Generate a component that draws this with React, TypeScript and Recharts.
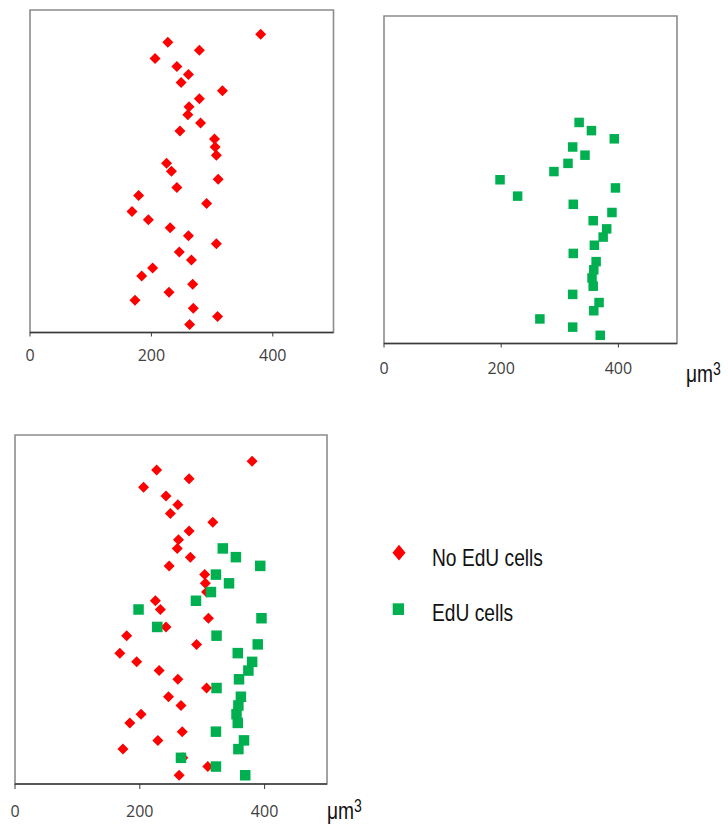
import { ReferenceArea, Scatter, ScatterChart, XAxis, YAxis } from "recharts";

const RED = "#ff0000";
const GREEN = "#00b050";
const FRAME = "#8c8c8c";
const AXIS = "#3a3a3a";
const LABEL = "#404040";
const TEXT = "#111111";

const xTicks = [0, 200, 400];

// cell volumes, top to bottom as plotted
const noEduVol = [
  380, 227, 279, 206, 242, 261, 249, 317, 279, 262, 260, 281, 247, 304, 305, 307, 225, 233, 310,
  242, 179, 291, 168, 195, 231, 261, 307, 246, 266, 202, 184, 268, 229, 173, 269, 309, 263,
];
const noEduRank = [
  37, 36, 35, 34, 33, 32, 31, 30, 29, 28, 27, 26, 25, 24, 23, 22, 21, 20, 19, 18, 17, 16, 15, 14,
  13, 12, 11, 10, 9, 8, 7, 6, 5, 4, 3, 2, 1,
];
const eduVol = [
  333, 354, 393, 322, 343, 314, 290, 198, 395, 228, 323, 389, 357, 380, 374, 359, 323, 362, 358,
  355, 357, 322, 367, 358, 266, 322, 369,
];
const eduRank = [
  27, 26, 25, 24, 23, 22, 21, 20, 19, 18, 17, 16, 15, 14, 13, 12, 11, 10, 9, 8, 7, 6, 5, 4, 3, 2, 1,
];

const noEdu = noEduVol.map((x, i) => ({ x, y: noEduRank[i] }));
const edu = eduVol.map((x, i) => ({ x, y: eduRank[i] }));

const Diamond = (props: any) => {
  const { cx, cy } = props;
  const r = 5.5;
  return (
    <polygon
      points={`${cx},${cy - r} ${cx + r},${cy} ${cx},${cy + r} ${cx - r},${cy}`}
      fill={RED}
    />
  );
};

const Square = (props: any) => {
  const { cx, cy } = props;
  const s = props.big ? 10.5 : 9.5;
  return <rect x={cx - s / 2} y={cy - s / 2} width={s} height={s} fill={GREEN} />;
};

const SquareBig = (props: any) => <Square {...props} big />;

type PanelProps = {
  left: number;
  top: number;
  plotW: number;
  plotH: number;
  tickMargin: number;
  tickSize: number;
  showRed: boolean;
  showGreen: boolean;
  bigSquares?: boolean;
};

const PAD = 4;

function Panel({ left, top, plotW, plotH, tickMargin, tickSize, showRed, showGreen, bigSquares }: PanelProps) {
  return (
    <div style={{ position: "absolute", left: left - PAD, top: top - PAD }}>
      <ScatterChart
        width={plotW + PAD * 2}
        height={plotH + PAD + 40}
        margin={{ top: PAD, right: PAD, left: PAD, bottom: 0 }}
      >
        <ReferenceArea x1={0} x2={500} y1={0} y2={40} fill="none" stroke={FRAME} strokeWidth={1.6} />
        <XAxis
          dataKey="x"
          type="number"
          domain={[0, 500]}
          ticks={xTicks}
          height={40}
          axisLine={{ stroke: AXIS, strokeWidth: 1.5 }}
          tickLine={{ stroke: AXIS }}
          tickSize={tickSize}
          tickMargin={tickMargin}
          tick={{ fill: LABEL, fontSize: 16, fontFamily: "'Open Sans'" }}
          allowDataOverflow
        />
        <YAxis dataKey="y" type="number" domain={[0, 40]} hide allowDataOverflow />
        {showRed && <Scatter data={noEdu} shape={Diamond} isAnimationActive={false} />}
        {showGreen && (
          <Scatter data={edu} shape={bigSquares ? SquareBig : Square} isAnimationActive={false} />
        )}
      </ScatterChart>
    </div>
  );
}

// narrow, tall Arial-like text (the source image is squeezed horizontally)
const Label = ({ left, baseline, children }: { left: number; baseline: number; children: any }) => (
  <div
    style={{
      position: "absolute",
      left,
      top: baseline - 20.3,
      fontFamily: "'Liberation Sans', Arial, sans-serif",
      fontSize: 24,
      lineHeight: 1,
      color: TEXT,
      whiteSpace: "nowrap",
      transform: "scaleX(0.8)",
      transformOrigin: "left top",
    }}
  >
    {children}
  </div>
);

const Unit = ({ left, baseline }: { left: number; baseline: number }) => (
  <Label left={left} baseline={baseline}>
    μm<span style={{ fontSize: 17.5, position: "relative", top: -7 }}>3</span>
  </Label>
);

export default function App() {
  return (
    <div style={{ position: "absolute", left: 0, top: 0, width: 728, height: 825, background: "#fff" }}>
      <Panel left={30} top={9.5} plotW={303.5} plotH={322.5} tickMargin={13.5} tickSize={4} showRed showGreen={false} />
      <Panel left={383.5} top={16} plotW={293} plotH={327.5} tickMargin={15} tickSize={4} showRed={false} showGreen />
      <Panel left={14.5} top={434.5} plotW={312} plotH={349} tickMargin={17} tickSize={5} showRed showGreen bigSquares />
      <Unit left={686} baseline={382.7} />
      <Unit left={326.5} baseline={819.3} />

      <svg style={{ position: "absolute", left: 390, top: 543 }} width={18} height={20}>
        <polygon points="9,1.8 15.5,9.7 9,17.6 2.5,9.7" fill={RED} />
      </svg>
      <Label left={431.5} baseline={566.6}>No EdU cells</Label>
      <svg style={{ position: "absolute", left: 390, top: 600 }} width={18} height={20}>
        <rect x={2.7} y={3.3} width={11.3} height={11.7} fill={GREEN} />
      </svg>
      <Label left={431.5} baseline={621.6}>EdU cells</Label>
    </div>
  );
}
